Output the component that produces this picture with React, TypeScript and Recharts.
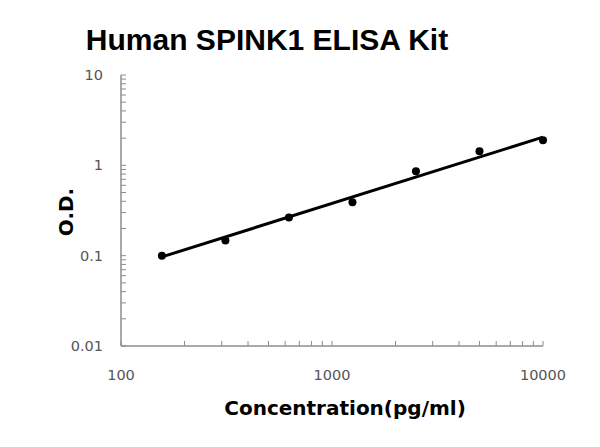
import React from 'react';
import { ScatterChart, Scatter, XAxis, YAxis } from 'recharts';

const concentrations = [156.25, 312.5, 625, 1250, 2500, 5000, 10000];
const odValues = [0.1, 0.147, 0.264, 0.39, 0.86, 1.43, 1.9];
const fitConc = [156.25, 10000];
const fitOd = [0.097, 2.05];
const xTicks = [100, 200, 300, 400, 500, 600, 700, 800, 900, 1000, 2000, 3000, 4000, 5000, 6000, 7000, 8000, 9000, 10000];
const yTicks = [0.01, 0.02, 0.03, 0.04, 0.05, 0.06, 0.07, 0.08, 0.09, 0.1, 0.2, 0.3, 0.4, 0.5, 0.6, 0.7, 0.8, 0.9, 1, 2, 3, 4, 5, 6, 7, 8, 9, 10];
const xMajor = [100, 1000, 10000];
const yMajor = [0.01, 0.1, 1, 10];

const points = concentrations.map((c, i) => ({ x: c, y: odValues[i] }));
const fit = fitConc.map((c, i) => ({ x: c, y: fitOd[i] }));

const AXIS = '#8c8c8c';
const LABEL = '#555';
const FONT = '"Liberation Sans", Arial, sans-serif';
const WIDE = '"DejaVu Sans", Verdana, sans-serif';

const XTick = (props: any) => {
  const { x, y, payload } = props;
  const v = payload.value;
  const major = xMajor.includes(v);
  return (
    <g>
      <line x1={x} x2={x} y1={y} y2={y - 5} stroke={AXIS} strokeWidth={1} />
      {major && (
        <text x={x} y={y + 34} textAnchor="middle" fill={LABEL} fontSize={14.5} fontFamily={WIDE}>
          {v}
        </text>
      )}
    </g>
  );
};

const YTick = (props: any) => {
  const { x, y, payload } = props;
  const v = payload.value;
  const major = yMajor.includes(v);
  return (
    <g>
      <line x1={x} x2={x + 5} y1={y} y2={y} stroke={AXIS} strokeWidth={1} />
      {major && (
        <text x={x - 18} y={y + 5} textAnchor="end" fill={LABEL} fontSize={14.5} fontFamily={WIDE}>
          {v}
        </text>
      )}
    </g>
  );
};

export default function App() {
  return (
    <div style={{ position: 'absolute', left: 0, top: 0, width: 600, height: 447, background: '#fff' }}>
      <div
        style={{
          position: 'absolute',
          left: 0,
          width: 534,
          top: 23,
          textAlign: 'center',
          fontFamily: FONT,
          fontWeight: 'bold',
          fontSize: 30,
          color: '#000',
        }}
      >
        Human SPINK1 ELISA Kit
      </div>
      <div
        style={{
          position: 'absolute',
          left: 66,
          top: 212,
          transform: 'translate(-50%, -50%) rotate(-90deg)',
          fontFamily: WIDE,
          fontWeight: 'bold',
          fontSize: 20,
          whiteSpace: 'nowrap',
          color: '#000',
        }}
      >
        O.D.
      </div>
      <div
        style={{
          position: 'absolute',
          left: 345,
          top: 408,
          transform: 'translate(-50%, -50%)',
          fontFamily: WIDE,
          fontWeight: 'bold',
          fontSize: 20,
          whiteSpace: 'nowrap',
          color: '#000',
        }}
      >
        Concentration(pg/ml)
      </div>
      <ScatterChart
        width={600}
        height={447}
        margin={{ top: 75, right: 57, bottom: 0, left: 0 }}
        style={{ position: 'absolute', left: 0, top: 0 }}
      >
        <XAxis
          type="number"
          dataKey="x"
          scale="log"
          domain={[100, 10000]}
          ticks={xTicks}
          interval={0}
          height={101}
          tickSize={0}
          tickMargin={0}
          tickLine={false}
          axisLine={{ stroke: AXIS, strokeWidth: 1.5 }}
          tick={<XTick />}
        />
        <YAxis
          type="number"
          dataKey="y"
          scale="log"
          domain={[0.01, 10]}
          ticks={yTicks}
          interval={0}
          width={121}
          tickSize={0}
          tickMargin={0}
          tickLine={false}
          axisLine={{ stroke: AXIS, strokeWidth: 1.5 }}
          tick={<YTick />}
        />
        <Scatter
          data={fit}
          line={{ stroke: '#000', strokeWidth: 3 }}
          shape={() => null}
          isAnimationActive={false}
        />
        <Scatter
          data={points}
          fill="#000"
          shape={(p: any) => <circle cx={p.cx} cy={p.cy} r={4} fill="#000" />}
          isAnimationActive={false}
        />
      </ScatterChart>
    </div>
  );
}
